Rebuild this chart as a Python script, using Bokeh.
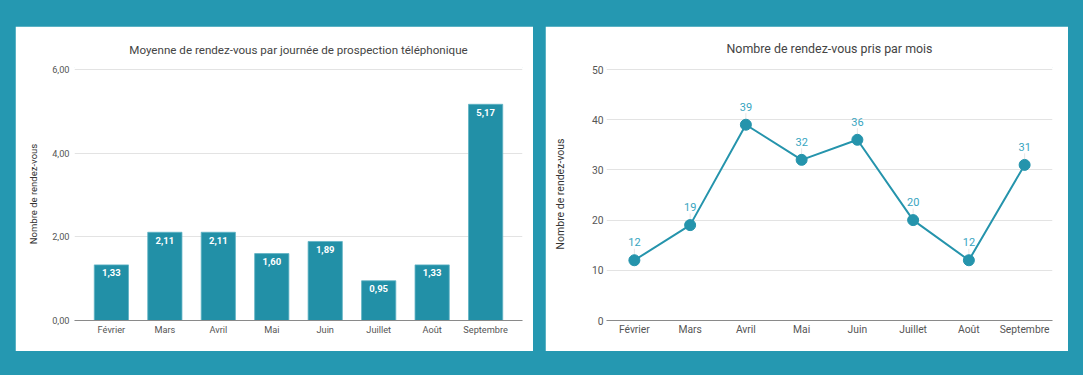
from bokeh.plotting import figure
from bokeh.layouts import row, column
from bokeh.models import ColumnDataSource, FixedTicker, Range1d, FactorRange, Spacer
from bokeh.embed import file_html
from bokeh.resources import INLINE

# ---- data ----
months = ["Février", "Mars", "Avril", "Mai", "Juin", "Juillet", "Août", "Septembre"]
avg_rdv = [1.33, 2.11, 2.11, 1.60, 1.89, 0.95, 1.33, 5.17]
avg_labels = ["1,33", "2,11", "2,11", "1,60", "1,89", "0,95", "1,33", "5,17"]
left_ticks = [0, 2, 4, 6]
left_tick_labels = ["0,00", "2,00", "4,00", "6,00"]

rdv_count = [12, 19, 39, 32, 36, 20, 12, 31]
right_ticks = [0, 10, 20, 30, 40, 50]

TEAL_BG = "#2598b1"
BAR = "#2290a7"
LINE = "#2594ac"
LABEL = "#38a5bf"
GRID = "#e3e3e3"
TXT = "#555555"
FONT = "Roboto"


def clean(p):
    p.border_fill_color = "white"
    p.background_fill_color = "white"
    p.outline_line_color = "white"
    p.outline_line_width = 1


def style_axes(p, size):
    for ax in (p.xaxis, p.yaxis):
        ax.major_tick_line_color = None
        ax.minor_tick_line_color = None
        ax.major_tick_out = 0
        ax.major_tick_in = 0
        ax.minor_tick_out = 0
        ax.minor_tick_in = 0
        ax.major_label_text_font = FONT
        ax.major_label_text_font_size = size
        ax.major_label_text_color = TXT
    p.xaxis.axis_line_color = "#8a8a8a"
    p.xaxis.axis_line_width = 1.2
    p.yaxis.axis_line_color = None
    p.xgrid.grid_line_color = None
    p.ygrid.grid_line_color = GRID


# ---- left: bar chart ----
idx = list(range(len(months)))
src1 = ColumnDataSource(dict(x=idx, y=avg_rdv, lab=avg_labels))
p1 = figure(width=518, height=325, output_backend="svg", toolbar_location=None,
            x_range=Range1d(-0.69, 7.69), y_range=Range1d(0, 6.05),
            min_border_left=59, min_border_right=11, min_border_top=41, min_border_bottom=27)
clean(p1)
p1.title.text = "Moyenne de rendez-vous par journée de prospection téléphonique"
p1.title.align = "center"
p1.title.text_font = FONT
p1.title.text_font_style = "normal"
p1.title.text_font_size = "11.6px"
p1.title.text_color = "#444444"
p1.title.standoff = 22

p1.vbar(x="x", top="y", width=0.64, source=src1, fill_color=BAR, line_color="#5fb2c4", line_width=0.8)
p1.text(x="x", y="y", text="lab", source=src1, text_align="center", text_baseline="middle",
        y_offset=8, text_color="white", text_font_size="9.5px", text_font_style="bold",
        text_font={"value": FONT})

style_axes(p1, "9.2px")
p1.xaxis.ticker = FixedTicker(ticks=idx)
p1.xaxis.major_label_overrides = {i: m for i, m in zip(idx, months)}
p1.yaxis.ticker = FixedTicker(ticks=left_ticks)
p1.yaxis.major_label_overrides = {t: l for t, l in zip(left_ticks, left_tick_labels)}
p1.ygrid.ticker = FixedTicker(ticks=left_ticks)
p1.xaxis.major_label_standoff = 3
p1.yaxis.major_label_standoff = 5
p1.yaxis.axis_label = "Nombre de rendez-vous"
p1.yaxis.axis_label_text_font = FONT
p1.yaxis.axis_label_text_font_style = "normal"
p1.yaxis.axis_label_text_font_size = "9.5px"
p1.yaxis.axis_label_text_color = "#333333"
p1.yaxis.axis_label_standoff = 10

# ---- right: line chart ----
src2 = ColumnDataSource(dict(x=months, y=rdv_count, lab=[str(v) for v in rdv_count],
                             y1=[v + 2.3 for v in rdv_count]))
p2 = figure(width=523, height=325, output_backend="svg", toolbar_location=None,
            x_range=FactorRange(*months), y_range=Range1d(0, 50.4),
            min_border_left=61, min_border_right=16, min_border_top=41, min_border_bottom=31)
clean(p2)
p2.title.text = "Nombre de rendez-vous pris par mois"
p2.title.align = "center"
p2.title.text_font = FONT
p2.title.text_font_style = "normal"
p2.title.text_font_size = "12.4px"
p2.title.text_color = "#444444"
p2.title.standoff = 24

p2.segment(x0="x", y0="y", x1="x", y1="y1", source=src2, line_color="#e6e6e6", line_width=1)
p2.line(x="x", y="y", source=src2, line_color=LINE, line_width=2)
p2.scatter(x="x", y="y", source=src2, size=11, fill_color=LINE, line_color=LINE)
p2.text(x="x", y="y", text="lab", source=src2, text_align="center", text_baseline="middle",
        y_offset=-18, text_color=LABEL, text_font_size="11px", text_font={"value": FONT})

style_axes(p2, "10.3px")
p2.yaxis.ticker = FixedTicker(ticks=right_ticks)
p2.ygrid.ticker = FixedTicker(ticks=right_ticks)
p2.xaxis.major_label_standoff = 2
p2.yaxis.major_label_standoff = 3
p2.yaxis.axis_label = "Nombre de rendez-vous"
p2.yaxis.axis_label_text_font = FONT
p2.yaxis.axis_label_text_font_style = "normal"
p2.yaxis.axis_label_text_font_size = "10.5px"
p2.yaxis.axis_label_text_color = "#333333"
p2.yaxis.axis_label_standoff = 22

bg = {"background-color": TEAL_BG}
layout = column(
    Spacer(width=1083, height=26, styles=bg),
    row(Spacer(width=15, height=325, styles=bg), p1,
        Spacer(width=12, height=325, styles=bg), p2,
        Spacer(width=15, height=325, styles=bg)),
    Spacer(width=1083, height=24, styles=bg),
    styles=bg,
)

html = file_html(layout, INLINE)
html = html.replace("<body>", '<body style="margin:0;background-color:%s;">' % TEAL_BG, 1)
open("out.html", "w").write(html)
